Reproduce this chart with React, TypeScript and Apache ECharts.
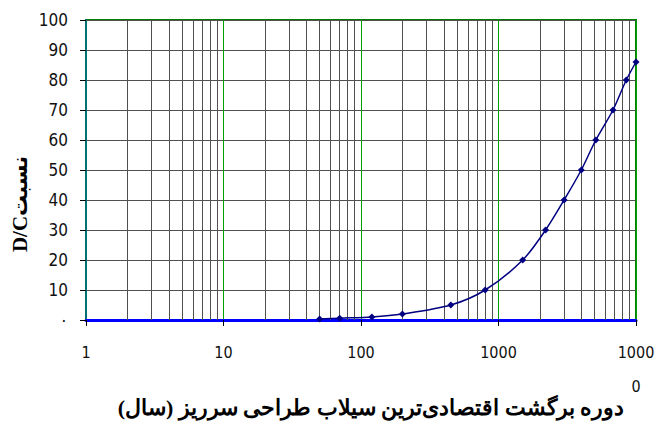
import React, { useEffect, useRef } from "react";
import * as echarts from "echarts";

const returnPeriods = [50, 70, 120, 200, 450, 800, 1500, 2200, 3000, 4000, 5100, 6800, 8500, 10000];
const ratios = [0.3, 0.6, 1, 2, 5, 10, 20, 30, 40, 50, 60, 70, 80, 86];
const xTickLabels = ["1", "10", "100", "1000", "1000\n0"];
const yTickLabels = ["۰", "10", "20", "30", "40", "50", "60", "70", "80", "90", "100"];
const minorMultipliers = [2, 3, 4, 5, 6, 7, 8, 9];
const decades = [1, 10, 100, 1000];
const xTitle = "دوره برگشت اقتصادی\u200cترین سیلاب طراحی سرریز (سال)";
const yTitle = "D/Cنسبت";

export default function App() {
  const ref = useRef<HTMLDivElement>(null);
  useEffect(() => {
    if (!ref.current) return;
    const chart = echarts.init(ref.current, undefined, { renderer: "svg" });
    const minorLines: { xAxis: number }[] = [];
    decades.forEach((d) => minorMultipliers.forEach((m) => minorLines.push({ xAxis: d * m })));
    const labelFont = "'DejaVu Sans Condensed', 'Liberation Sans Narrow', sans-serif";
    chart.setOption({
      animation: false,
      backgroundColor: "#ffffff",
      grid: {
        left: 86,
        right: 18,
        top: 20,
        bottom: 106,
        show: true,
        containLabel: false,
        outerBoundsMode: "none",
        borderColor: "#008000",
        borderWidth: 2,
        backgroundColor: "transparent",
      },
      xAxis: {
        type: "log",
        logBase: 10,
        min: 1,
        max: 10000,
        axisLine: { show: true, onZero: false, lineStyle: { color: "#0000ff", width: 3 } },
        axisTick: { show: true, inside: false, length: 6, lineStyle: { color: "#000", width: 1 } },
        axisLabel: {
          margin: 15,
          fontFamily: labelFont,
          fontSize: 16,
          color: "#111",
          lineHeight: 34,
          formatter: (v: number) => {
            const i = Math.round(Math.log10(v));
            return xTickLabels[i] ?? String(v);
          },
        },
        splitLine: { show: true, lineStyle: { color: "#00a000", width: 1 } },
        name: xTitle,
        nameLocation: "middle",
        nameGap: 76,
        nameMoveOverlap: false,
        nameTextStyle: {
          fontFamily: "'Times New Roman', 'Liberation Serif', 'DejaVu Serif', serif",
          fontWeight: "bold",
          fontSize: 22,
          color: "#000",
          padding: [0, 0, 0, 20],
        },
      },
      yAxis: {
        type: "value",
        min: 0,
        max: 100,
        interval: 10,
        axisLine: { show: true, lineStyle: { color: "#007070", width: 2 } },
        axisTick: { show: true, inside: false, length: 6, lineStyle: { color: "#000", width: 1 } },
        axisLabel: {
          margin: 18,
          fontFamily: labelFont,
          fontSize: 17,
          color: "#111",
          formatter: (v: number) => yTickLabels[Math.round(v / 10)] ?? String(v),
        },
        splitLine: { show: true, lineStyle: { color: "#505050", width: 1 } },
      },
      graphic: [
        {
          type: "text",
          x: 20,
          y: 204,
          rotation: Math.PI / 2,
          style: {
            text: yTitle,
            fontFamily: "'Liberation Serif', 'DejaVu Sans', serif",
            fontWeight: "bold",
            fontSize: 21,
            fill: "#000",
            align: "center",
            verticalAlign: "middle",
          },
        },
      ],
      series: [
        {
          type: "line",
          data: returnPeriods.map((x, i) => [x, ratios[i]]),
          smooth: 0.3,
          symbol: "diamond",
          symbolSize: 7,
          lineStyle: { color: "#000080", width: 1.5 },
          itemStyle: { color: "#000080" },
          z: 5,
          markLine: {
            silent: true,
            symbol: "none",
            label: { show: false },
            lineStyle: { color: "#505050", width: 1, type: "solid" },
            data: minorLines,
            z: 1,
          },
        },
      ],
    });
    return () => chart.dispose();
  }, []);
  return (
    <div
      ref={ref}
      style={{ position: "absolute", left: 0, top: 0, width: 654, height: 426, background: "#fff" }}
    />
  );
}
